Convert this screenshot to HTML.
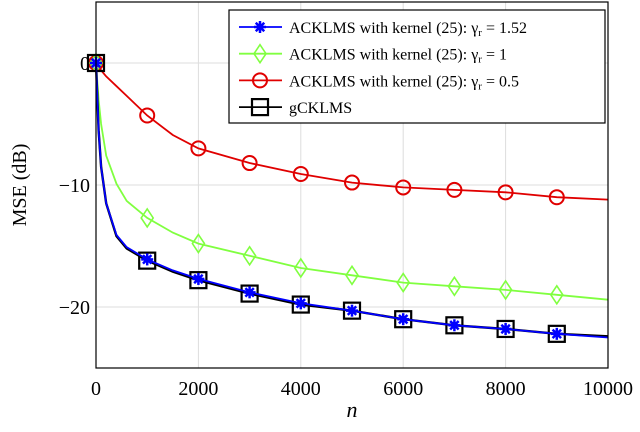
<!DOCTYPE html>
<html><head><meta charset="utf-8"><style>
body{margin:0;background:#fff}
svg text{font-family:"Liberation Serif",serif;fill:#000}
</style></head><body>
<svg width="640" height="427" viewBox="0 0 640 427" id="chart">
<script>
const nVals=[0,50,100,200,400,600,1000,1500,2000,3000,4000,5000,6000,7000,8000,9000,10000];
const blackMSE=[0,-5.5,-8.5,-11.5,-14.2,-15.2,-16.2,-17.1,-17.8,-18.9,-19.8,-20.3,-21,-21.5,-21.8,-22.2,-22.4];
const blueMSE=[0,-5.5,-8.5,-11.5,-14.1,-15.1,-16.1,-17,-17.7,-18.8,-19.7,-20.3,-21,-21.5,-21.8,-22.2,-22.5];
const greenMSE=[0,-3,-5,-7.6,-9.9,-11.3,-12.7,-13.9,-14.8,-15.8,-16.8,-17.4,-18,-18.3,-18.6,-19,-19.4];
const redMSE=[0,-0.3,-0.6,-1.1,-1.9,-2.7,-4.3,-5.9,-7,-8.2,-9.1,-9.8,-10.2,-10.4,-10.6,-11,-11.2];
const markerN=[0,1000,2000,3000,4000,5000,6000,7000,8000,9000];
const xTicks=[0,2000,4000,6000,8000,10000];
const yTicks=[0,-10,-20];
const legendLabels=["ACKLMS with kernel (25): γ","ACKLMS with kernel (25): γ","ACKLMS with kernel (25): γ","gCKLMS"];
const legendGamma=["1.52","1","0.5",""];
</script>
</svg>
<script>
const svg=document.getElementById('chart');
const NS='http://www.w3.org/2000/svg';
const L=96,R=608,T=2,B=368,XMIN=0,XMAX=10000,YMIN=-25,YMAX=5;
const xs=v=>L+(v-XMIN)/(XMAX-XMIN)*(R-L);
const ys=v=>B-(v-YMIN)/(YMAX-YMIN)*(B-T);
function mk(tag,attrs,parent){const e=document.createElementNS(NS,tag);for(const k in attrs)e.setAttribute(k,attrs[k]);(parent||svg).appendChild(e);return e;}
function interp(arr,n){for(let i=0;i<nVals.length-1;i++){if(n>=nVals[i]&&n<=nVals[i+1]){const t=(n-nVals[i])/(nVals[i+1]-nVals[i]);return arr[i]+t*(arr[i+1]-arr[i]);}}return arr[arr.length-1];}
xTicks.forEach(t=>{const g=mk('line',{x1:xs(t),x2:xs(t),y1:T,y2:B,stroke:'#ddd','stroke-width':1});


const tx=mk('text',{x:xs(t),y:B+27,'text-anchor':'middle','font-size':20});tx.textContent=t;

});
yTicks.forEach(t=>{const g=mk('line',{x1:L,x2:R,y1:ys(t),y2:ys(t),stroke:'#ddd','stroke-width':1});


const tx=mk('text',{x:L-6,y:ys(t)+7,'text-anchor':'end','font-size':20});tx.textContent=(t<0?'−':'')+Math.abs(t);

});
const series=[[redMSE,'#e00000','circle','red-series'],[greenMSE,'#80ff40','diamond','green-series'],[blackMSE,'#000','square','gcklms-series'],[blueMSE,'#0000ff','star','blue-series']];
function marker(type,x,y,c,p){let e;
if(type==='circle')e=mk('circle',{cx:x,cy:y,r:7,fill:'none',stroke:c,'stroke-width':2},p);
else if(type==='diamond')e=mk('path',{d:`M${x} ${y-9}L${x+6} ${y}L${x} ${y+9}L${x-6} ${y}Z`,fill:'none',stroke:c,'stroke-width':1.6},p);
else if(type==='square')e=mk('rect',{x:x-8,y:y-8,width:16,height:16,fill:'none',stroke:c,'stroke-width':2.2},p);
else{e=mk('g',{},p);for(let a=0;a<4;a++){const an=a*Math.PI/4;mk('line',{x1:x-6*Math.cos(an),y1:y-6*Math.sin(an),x2:x+6*Math.cos(an),y2:y+6*Math.sin(an),stroke:c,'stroke-width':2.5},e);}mk('circle',{cx:x,cy:y,r:3.5,fill:c},e);}
return e;}
series.forEach(([arr,c,m,name])=>{
const d=nVals.map((n,i)=>(i?'L':'M')+xs(n).toFixed(1)+' '+ys(arr[i]).toFixed(1)).join('');
const p=mk('path',{d,fill:'none',stroke:c,'stroke-width':name==='gcklms-series'?2.4:1.8});


markerN.forEach(n=>{const e=marker(m,xs(n),ys(interp(arr,n)),c);

});
});
const fr=mk('rect',{x:L,y:T,width:R-L,height:B-T,fill:'none',stroke:'#000','stroke-width':1.2});


const xt=mk('text',{x:(L+R)/2,y:417,'text-anchor':'middle','font-size':22,'font-style':'italic'});xt.textContent='n';


const yt=mk('text',{x:0,y:0,'text-anchor':'middle','font-size':20,transform:`translate(26,${(T+B)/2}) rotate(-90)`});yt.textContent='MSE (dB)';


const lg=mk('g',{});


mk('rect',{x:229,y:10,width:376,height:113,fill:'#fff',stroke:'#000','stroke-width':1.2},lg);
const lc=['#0000ff','#80ff40','#e00000','#000'],lm=['star','diamond','circle','square'];
legendLabels.forEach((lab,i)=>{const y=27+i*26.7;
const g=mk('g',{},lg);


mk('line',{x1:239,x2:282,y1:y,y2:y,stroke:lc[i],'stroke-width':1.8},g);
marker(lm[i],260,y,lc[i],g);
const t=mk('text',{x:289,y:y+6,'font-size':16},g);
t.textContent=lab;
if(legendGamma[i]){const s=mk('tspan',{'font-size':11,dy:3},t);s.textContent='r';
const s2=mk('tspan',{dy:-3},t);s2.textContent=' = '+legendGamma[i];}
});
</script>
</body></html>
